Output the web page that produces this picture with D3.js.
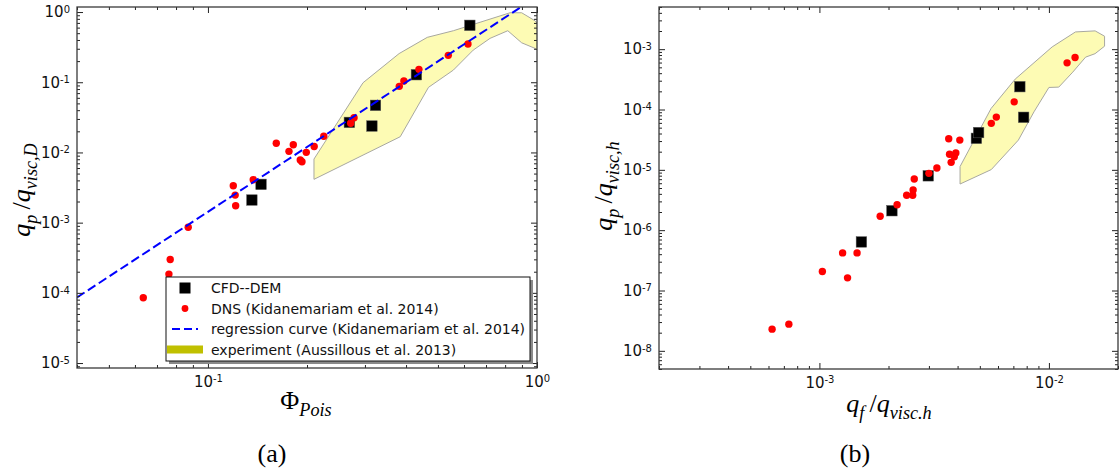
<!DOCTYPE html>
<html>
<head>
<meta charset="utf-8">
<script src="https://cdn.jsdelivr.net/npm/d3@7"></script>
<style>
  body { margin: 0; background: #fff; }
  svg text { font-family: "DejaVu Sans", sans-serif; }
  svg text.math { font-family: "Liberation Serif", "DejaVu Serif", serif; }
</style>
</head>
<body>
<svg id="fig" width="1119" height="475"></svg>
<script>
// ---------- panel (a): q_p/q_visc,D against Phi_Pois ----------
const cfdPhi = [0.136, 0.145, 0.269, 0.315, 0.323, 0.430, 0.625];
const cfdQa = [0.0021, 0.00351, 0.0268, 0.0238, 0.0469, 0.128, 0.647];

const dnsPhi = [0.0636, 0.0761, 0.0768, 0.0871, 0.1194, 0.121, 0.1214, 0.1373, 0.1613, 0.1763,
  0.1817, 0.1908, 0.1931, 0.199, 0.2103, 0.2249, 0.2715, 0.278, 0.3815, 0.394, 0.4377, 0.5376, 0.6169];
const dnsQa = [8.5e-5, 1.85e-4, 2.98e-4, 8.6e-4, 0.00335, 0.00247, 0.00174, 0.00408, 0.0135, 0.01037,
  0.0129, 0.0078, 0.00738, 0.01003, 0.01214, 0.017, 0.026, 0.0312, 0.0874, 0.104, 0.1527, 0.2416, 0.35];

// regression curve end points (straight on log-log)
const regPhi = [0.04, 1.0];
const regQa = [8.6e-5, 1.66];

// experiment band outline
const expPhi = [0.210, 0.296, 0.381, 0.464, 0.557, 0.828, 0.898, 0.986, 1.024,
  1.024, 0.986, 0.898, 0.815, 0.720, 0.640, 0.557, 0.468, 0.384, 0.210];
const expQa = [0.00805, 0.0984, 0.256, 0.436, 0.542, 0.977, 0.977, 0.752, 0.618,
  0.265, 0.304, 0.365, 0.542, 0.422, 0.287, 0.149, 0.0846, 0.01675, 0.00414];

// ---------- panel (b): q_p/q_visc,h against q_f/q_visc.h ----------
const cfdQf = [1.524e-3, 2.07e-3, 2.98e-3, 4.83e-3, 4.94e-3, 7.47e-3, 7.76e-3];
const cfdQb = [6.38e-7, 2.10e-6, 7.96e-6, 3.33e-5, 4.15e-5, 2.39e-4, 7.43e-5];

const dnsQf = [6.22e-4, 7.36e-4, 1.03e-3, 1.262e-3, 1.326e-3, 1.459e-3, 1.84e-3, 2.18e-3, 2.40e-3, 2.55e-3,
  2.56e-3, 2.59e-3, 3.0e-3, 3.25e-3, 3.66e-3, 4.09e-3, 3.69e-3, 3.87e-3, 3.93e-3, 3.75e-3,
  5.61e-3, 5.90e-3, 7.06e-3, 1.2e-2, 1.30e-2];
const dnsQb = [2.29e-8, 2.77e-8, 2.06e-7, 4.2e-7, 1.62e-7, 4.2e-7, 1.70e-6, 2.64e-6, 3.79e-6, 3.79e-6,
  4.64e-6, 7.05e-6, 8.75e-6, 1.07e-5, 3.27e-5, 3.11e-5, 1.81e-5, 1.65e-5, 1.90e-5, 1.33e-5,
  5.89e-5, 7.48e-5, 1.34e-4, 5.93e-4, 7.29e-4];

const expQf = [4.1e-3, 4.1e-3, 5.6e-3, 7.13e-3, 1.033e-2, 1.305e-2, 1.59e-2, 1.748e-2, 1.748e-2,
  1.589e-2, 1.445e-2, 1.27e-2, 1.104e-2, 1.0e-2, 8.61e-3, 7.36e-3, 5.61e-3];
const expQb = [5.82e-6, 1.135e-5, 1.042e-4, 3.19e-4, 1.09e-3, 1.93e-3, 2.01e-3, 1.64e-3, 1.12e-3,
  8.42e-4, 7.38e-4, 4.16e-4, 2.35e-4, 2.32e-4, 9.16e-5, 3.11e-5, 1.01e-5];

// ---------- tick labels ----------
const xTicksA = [0.1, 1];
const yTicksA = [1e-5, 1e-4, 1e-3, 1e-2, 1e-1, 1];
const xTicksB = [1e-3, 1e-2];
const yTicksB = [1e-8, 1e-7, 1e-6, 1e-5, 1e-4, 1e-3];

const legendLabels = ["CFD--DEM", "DNS (Kidanemariam et al. 2014)",
  "regression curve (Kidanemariam et al. 2014)", "experiment (Aussillous et al. 2013)"];

const svg = d3.select("#fig");

// minor ticks 2..9 in every decade of the domain
function minorTicks(dom) {
  const out = [];
  const lo = Math.floor(Math.log10(dom[0])), hi = Math.ceil(Math.log10(dom[1]));
  for (let e = lo; e <= hi; e++) {
    for (let m = 2; m <= 9; m++) {
      const v = m * Math.pow(10, e);
      if (v >= dom[0] && v <= dom[1]) out.push(v);
    }
  }
  return out;
}

// "10" with a superscript exponent
function powLabels(g) {
  g.selectAll(".tick text").each(function (d) {
    const t = d3.select(this).text(null);
    t.append("tspan").text("10");
    t.append("tspan").attr("dy", "-0.45em").attr("font-size", 10)
      .text(String(Math.round(Math.log10(d))));
  });
}

// math style text (italic, roman and subscript runs)
function addMath(text, parts, size) {
  let shift = 0;
  parts.forEach(([s, kind]) => {
    const sub = kind === "sub";
    const target = sub ? size * 0.28 : 0;
    text.append("tspan")
      .attr("dy", target - shift)
      .attr("font-size", sub ? size * 0.7 : size)
      .attr("font-style", kind === "r" ? "normal" : "italic")
      .text(s);
    shift = target;
  });
}

function drawPanel(p) {
  const w = p.x1 - p.x0, h = p.y1 - p.y0;
  const x = d3.scaleLog().domain(p.xDom).range([0, w]);
  const y = d3.scaleLog().domain(p.yDom).range([h, 0]);
  const g = svg.append("g").attr("transform", `translate(${p.x0},${p.y0})`);

  g.append("clipPath").attr("id", p.id + "clip")
    .append("rect").attr("width", w).attr("height", h);
  const plot = g.append("g").attr("clip-path", `url(#${p.id}clip)`);

  // experiment band
  const band = p.expX.map((v, i) => [x(v), y(p.expY[i])]);
  plot.append("path")
    .attr("d", "M" + band.join("L") + "Z")
    .attr("fill", "#fdfbb4")
    .attr("stroke", "#a8a8a0")
    .attr("stroke-width", 1);

  // CFD--DEM squares
  const s = 10.5;
  plot.selectAll("rect.cfd")
    .data(p.cfdX)
    .enter()
    .append("rect")
    .attr("class", "cfd")
    .attr("x", (d) => x(d) - s / 2)
    .attr("y", (d, i) => y(p.cfdY[i]) - s / 2)
    .attr("width", s)
    .attr("height", s)
    .attr("fill", "#000")
    .attr("stroke", "#555")
    .attr("stroke-width", 0.5);

  // DNS dots
  plot.selectAll("circle.dns")
    .data(p.dnsX)
    .enter()
    .append("circle")
    .attr("class", "dns")
    .attr("cx", (d) => x(d))
    .attr("cy", (d, i) => y(p.dnsY[i]))
    .attr("r", 3.7)
    .attr("fill", "#ff0000");

  // regression curve
  if (p.regX) {
    const line = d3.line().x((d) => x(d[0])).y((d) => y(d[1]));
    plot.append("path")
      .attr("d", line(p.regX.map((v, i) => [v, p.regY[i]])))
      .attr("fill", "none")
      .attr("stroke", "#0000ff")
      .attr("stroke-width", 2)
      .attr("stroke-dasharray", "9,4");
  }

  // ticks pointing inward on all four sides
  const xMinor = minorTicks(p.xDom), yMinor = minorTicks(p.yDom);
  const clean = (a) => a.call((s) => s.select(".domain").remove());

  g.append("g").attr("transform", `translate(0,${h})`)
    .call(d3.axisBottom(x).tickValues(xMinor).tickSize(-3).tickFormat("")).call(clean);
  g.append("g").attr("transform", `translate(0,${h})`)
    .call(d3.axisBottom(x).tickValues(p.xTicks).tickSize(-6).tickPadding(8)).call(clean).call(powLabels);
  g.append("g")
    .call(d3.axisTop(x).tickValues(xMinor).tickSize(-3).tickFormat("")).call(clean);
  g.append("g")
    .call(d3.axisTop(x).tickValues(p.xTicks).tickSize(-6).tickFormat("")).call(clean);

  g.append("g")
    .call(d3.axisLeft(y).tickValues(yMinor).tickSize(-3).tickFormat("")).call(clean);
  g.append("g")
    .call(d3.axisLeft(y).tickValues(p.yTicks).tickSize(-6).tickPadding(7)).call(clean).call(powLabels);
  g.append("g").attr("transform", `translate(${w},0)`)
    .call(d3.axisRight(y).tickValues(yMinor).tickSize(-3).tickFormat("")).call(clean);
  g.append("g").attr("transform", `translate(${w},0)`)
    .call(d3.axisRight(y).tickValues(p.yTicks).tickSize(-6).tickFormat("")).call(clean);

  g.selectAll(".tick text").attr("font-size", 15).attr("fill", "#111");
  g.selectAll(".tick line").attr("stroke", "#222");

  // frame
  g.append("rect")
    .attr("width", w).attr("height", h)
    .attr("fill", "none").attr("stroke", "#3a3a3a").attr("stroke-width", 1.3);

  // axis labels
  const yl = svg.append("text")
    .attr("class", "math")
    .attr("transform", `translate(${p.yLabelX},${p.yLabelY}) rotate(-90)`)
    .attr("text-anchor", "middle");
  addMath(yl, p.yLabel, 26);

  const xl = svg.append("text")
    .attr("class", "math")
    .attr("x", p.xLabelX).attr("y", p.xLabelY)
    .attr("text-anchor", "middle");
  addMath(xl, p.xLabel, 26);

  svg.append("text")
    .attr("class", "math")
    .attr("x", p.capX).attr("y", 462)
    .attr("text-anchor", "middle")
    .attr("font-size", 26)
    .text(p.caption);

  return { g, x, y };
}

drawPanel({
  id: "a", x0: 77, x1: 537, y0: 7, y1: 368,
  xDom: [0.04, 1], yDom: [8.5e-6, 1.18],
  xTicks: xTicksA, yTicks: yTicksA,
  cfdX: cfdPhi, cfdY: cfdQa, dnsX: dnsPhi, dnsY: dnsQa,
  regX: regPhi, regY: regQa, expX: expPhi, expY: expQa,
  yLabel: [["q", "i"], ["p", "sub"], ["\u2009/", "r"], ["q", "i"], ["visc,D", "sub"]],
  yLabelX: 30, yLabelY: 190,
  xLabel: [["\u03A6", "r"], ["Pois", "sub"]],
  xLabelX: 306, xLabelY: 409,
  caption: "(a)", capX: 272
});

drawPanel({
  id: "b", x0: 659, x1: 1118, y0: 7, y1: 369,
  xDom: [2e-4, 2e-2], yDom: [5e-9, 5e-3],
  xTicks: xTicksB, yTicks: yTicksB,
  cfdX: cfdQf, cfdY: cfdQb, dnsX: dnsQf, dnsY: dnsQb,
  expX: expQf, expY: expQb,
  yLabel: [["q", "i"], ["p", "sub"], ["\u2009/", "r"], ["q", "i"], ["visc,h", "sub"]],
  yLabelX: 612, yLabelY: 186,
  xLabel: [["q", "i"], ["f", "sub"], ["\u2009/", "r"], ["q", "i"], ["visc.h", "sub"]],
  xLabelX: 889, xLabelY: 412,
  caption: "(b)", capX: 855
});

// legend of panel (a)
const leg = svg.append("g").attr("transform", "translate(166,277)");
const lw = 364, lh = 84;
leg.append("rect").attr("x", 3).attr("y", 3).attr("width", lw).attr("height", lh).attr("fill", "#8a8a8a");
leg.append("rect").attr("width", lw).attr("height", lh)
  .attr("fill", "#fff").attr("stroke", "#111").attr("stroke-width", 1);

const rowY = (i) => 11 + i * 20.5;
leg.append("rect").attr("x", 19 - 5.5).attr("y", rowY(0) - 5.5).attr("width", 11).attr("height", 11).attr("fill", "#000");
leg.append("circle").attr("cx", 19).attr("cy", rowY(1)).attr("r", 3.4).attr("fill", "#ff0000");
leg.append("line").attr("x1", 6).attr("x2", 32).attr("y1", rowY(2)).attr("y2", rowY(2))
  .attr("stroke", "#0000ff").attr("stroke-width", 2).attr("stroke-dasharray", "8,4");
leg.append("rect").attr("x", 1).attr("y", rowY(3) - 4).attr("width", 36).attr("height", 8).attr("fill", "#c0c000");

leg.selectAll("text.item")
  .data(legendLabels)
  .enter()
  .append("text")
  .attr("class", "item")
  .attr("x", 45)
  .attr("y", (d, i) => rowY(i))
  .attr("dy", "0.36em")
  .attr("font-size", 14)
  .attr("fill", "#111")
  .text((d) => d);
</script>
</body>
</html>
